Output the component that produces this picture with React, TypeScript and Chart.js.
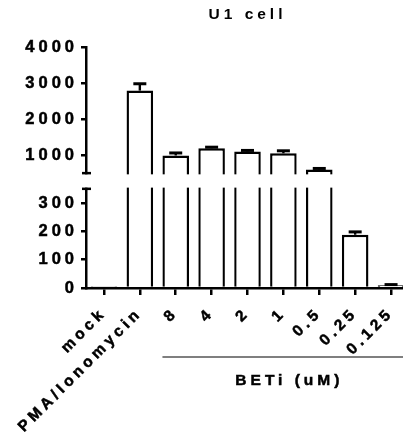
import React, { useEffect, useRef } from 'react';
import { Chart, LinearScale, registerables } from 'chart.js';

// ---- data ----
const categories = ['mock', 'PMA/Ionomycin', '8', '4', '2', '1', '0.5', '0.25', '0.125'];
const means = [6, 2790, 990, 1190, 1100, 1050, 600, 188, 10];
const errors = [0, 190, 70, 30, 30, 70, 30, 10, 2];
const yTicks = [0, 100, 200, 300, 1000, 2000, 3000, 4000];
const lowerMax = 350;
const upperMin = 500;
const yMax = 4000;
const chartTitle = 'U1 cell';
const groupLabel = 'BETi (uM)';
const groupFirst = 2;

// ---- broken-axis layout fractions ----
const LOW_FRAC = 99.3 / 241.3;
const GAP_FRAC = 15.7 / 241.3;
const FONT = '"Liberation Sans", Arial, Helvetica, sans-serif';
const LS = '4px';

class BrokenLinearScale extends LinearScale {
  static id = 'brokenLinear';
  static defaults = LinearScale.defaults;
  buildTicks() {
    return yTicks.map((v) => ({ value: v }));
  }
  segs() {
    const h = this.bottom - this.top;
    const low = h * LOW_FRAC;
    const gap = h * GAP_FRAC;
    return { low, gap, up: h - low - gap };
  }
  getPixelForValue(v: number) {
    const { low, gap, up } = this.segs();
    if (v <= lowerMax) return this.bottom - (v / lowerMax) * low;
    if (v >= upperMin) return this.bottom - low - gap - ((v - upperMin) / (yMax - upperMin)) * up;
    return this.bottom - low - ((v - lowerMax) / (upperMin - lowerMax)) * gap;
  }
  getValueForPixel(p: number) {
    const { low, gap, up } = this.segs();
    const d = this.bottom - p;
    if (d <= low) return (d / low) * lowerMax;
    if (d >= low + gap) return upperMin + ((d - low - gap) / up) * (yMax - upperMin);
    return lowerMax + ((d - low) / gap) * (upperMin - lowerMax);
  }
}

Chart.register(...registerables, BrokenLinearScale as any);

const spacingPlugin = {
  id: 'spacing',
  beforeUpdate(chart: any) { chart.ctx.letterSpacing = LS; },
  beforeLayout(chart: any) { chart.ctx.letterSpacing = LS; },
  beforeDraw(chart: any) { chart.ctx.letterSpacing = LS; },
};

const decorPlugin = {
  id: 'decor',
  afterDatasetsDraw(chart: any) {
    const ctx = chart.ctx;
    const y = chart.scales.y;
    const meta = chart.getDatasetMeta(0);
    const left = chart.chartArea.left;
    ctx.save();
    ctx.strokeStyle = '#000';
    meta.data.forEach((bar: any, i: number) => {
      if (!errors[i]) return;
      const top = y.getPixelForValue(means[i]);
      const end = y.getPixelForValue(means[i] + errors[i]);
      ctx.lineWidth = 2.4;
      ctx.beginPath();
      ctx.moveTo(bar.x, top);
      ctx.lineTo(bar.x, end);
      ctx.stroke();
      ctx.lineWidth = 3;
      ctx.beginPath();
      ctx.moveTo(bar.x - 6.5, end);
      ctx.lineTo(bar.x + 6.5, end);
      ctx.stroke();
    });
    const yLow = y.getPixelForValue(lowerMax);
    const yHigh = y.getPixelForValue(upperMin);
    ctx.fillStyle = '#fff';
    ctx.fillRect(left - 3, yHigh + 1.2, chart.width, yLow - yHigh - 2.4);
    ctx.lineWidth = 2.5;
    [yHigh, yLow].forEach((py) => {
      ctx.beginPath();
      ctx.moveTo(left - 4, py);
      ctx.lineTo(left + 5, py);
      ctx.stroke();
    });
    ctx.restore();
  },
  afterDraw(chart: any) {
    const ctx = chart.ctx;
    const bars = chart.getDatasetMeta(0).data;
    const first = bars[groupFirst];
    const last = bars[bars.length - 1];
    const x0 = first.x - first.width / 2;
    const x1 = last.x + last.width / 2;
    const ly = chart.chartArea.bottom + 69;
    ctx.save();
    ctx.letterSpacing = LS;
    ctx.strokeStyle = '#555';
    ctx.lineWidth = 1.5;
    ctx.beginPath();
    ctx.moveTo(x0, ly);
    ctx.lineTo(chart.width, ly);
    ctx.stroke();
    ctx.fillStyle = '#000';
    ctx.strokeStyle = '#000';
    ctx.lineWidth = 0.5;
    ctx.font = `bold 15.5px ${FONT}`;
    ctx.textAlign = 'center';
    ctx.textBaseline = 'middle';
    const tx = (x0 + x1) / 2 + 6;
    const ty = ly + 23.5;
    ctx.fillText(groupLabel, tx, ty);
    ctx.strokeText(groupLabel, tx, ty);
    ctx.restore();
  },
};

export default function App() {
  const ref = useRef<HTMLCanvasElement | null>(null);
  useEffect(() => {
    if (!ref.current) return;
    Chart.defaults.color = '#000';
    Chart.defaults.font.family = FONT;
    const chart = new Chart(ref.current, {
      type: 'bar',
      data: {
        labels: categories,
        datasets: [
          {
            data: means,
            backgroundColor: '#fff',
            borderColor: '#000',
            borderWidth: 2.4,
            borderSkipped: 'bottom',
            barPercentage: 0.74,
            categoryPercentage: 1,
          },
        ],
      },
      options: {
        animation: false,
        responsive: true,
        maintainAspectRatio: false,
        events: [],
        layout: { padding: 0, autoPadding: false },
        plugins: {
          legend: { display: false },
          tooltip: { enabled: false },
          title: {
            display: true,
            text: chartTitle,
            fullSize: false,
            font: { size: 15.5, weight: 'bold' },
            padding: { top: 5.5, bottom: 22.9 },
            color: '#000',
          },
        },
        scales: {
          x: {
            type: 'category',
            offset: true,
            grid: {
              offset: false,
              drawOnChartArea: false,
              drawTicks: true,
              tickLength: 7,
              color: '#000',
              lineWidth: 2.5,
            },
            border: { display: true, color: '#000', width: 2.5 },
            ticks: {
              autoSkip: false,
              minRotation: 45,
              maxRotation: 45,
              padding: 9,
              color: '#000',
              textStrokeColor: '#000',
              textStrokeWidth: 0.5,
              font: { size: 15.5, weight: 'bold' },
            },
            afterFit: (s: any) => {
              s.height = 153;
              s.paddingLeft = 0;
              s.paddingRight = 0;
            },
          },
          y: {
            type: 'brokenLinear' as any,
            min: 0,
            max: yMax,
            grid: {
              drawOnChartArea: false,
              drawTicks: true,
              tickLength: 5,
              color: '#000',
              lineWidth: 2.5,
            },
            border: { display: true, color: '#000', width: 2.5 },
            ticks: {
              padding: 3,
              color: '#000',
              textStrokeColor: '#000',
              textStrokeWidth: 0.5,
              font: { size: 16.5, weight: 'bold' },
              callback: (v: any) => String(v),
            },
            afterFit: (s: any) => {
              s.width = 86;
              s.paddingTop = 0;
              s.paddingBottom = 0;
            },
          },
        },
      } as any,
      plugins: [spacingPlugin, decorPlugin],
    });
    return () => chart.destroy();
  }, []);
  return (
    <div style={{ position: 'fixed', left: 0, top: 0, width: 403, height: 441, overflow: 'hidden', background: '#fff' }}>
      <div style={{ position: 'relative', width: 409, height: 441 }}>
        <canvas ref={ref} />
      </div>
    </div>
  );
}
